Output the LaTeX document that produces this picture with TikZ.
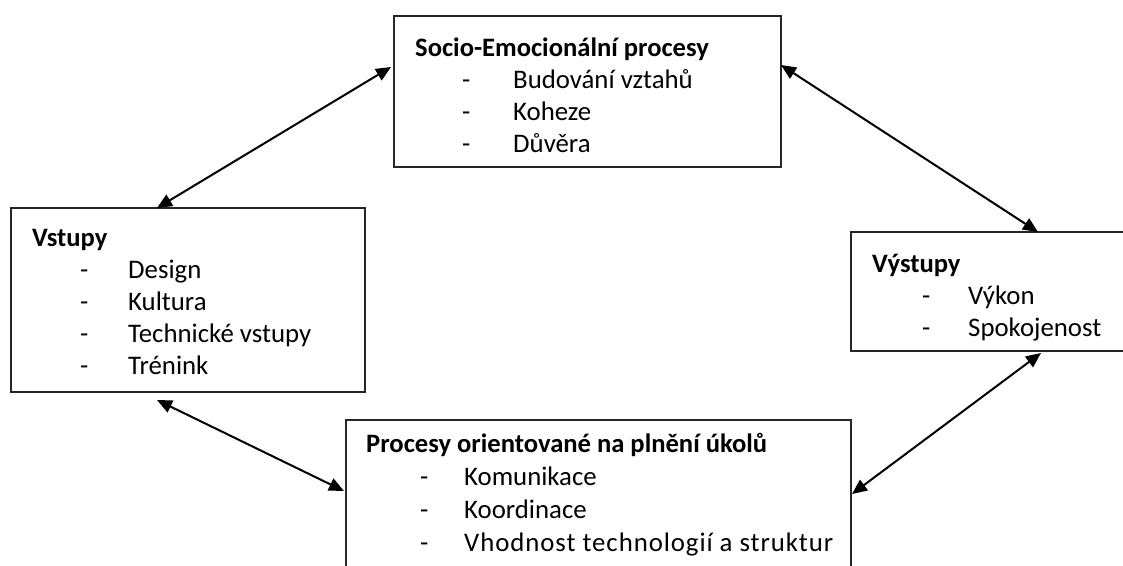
\documentclass[tikz,border=0pt]{standalone}
\usepackage{fontspec}
\setmainfont{Carlito}
\usetikzlibrary{arrows.meta,calc}
\begin{document}
\begin{tikzpicture}[x=1pt,y=-1pt,
  box/.style={draw=black!85, line width=1.6pt, rectangle, inner sep=0pt, outer sep=0pt, anchor=north west},
  head/.style={anchor=base west, inner sep=0pt, font=\fontsize{26.6}{32}\selectfont\bfseries},
  item/.style={anchor=base west, inner sep=0pt, font=\fontsize{26.8}{32}\selectfont},
  wide/.style={item, font=\fontsize{26.8}{32}\selectfont\addfontfeatures{LetterSpace=3.5}},
  link/.style={line width=2pt, {Triangle[length=15pt,width=13pt]}-{Triangle[length=15pt,width=13pt]}}
]
\useasboundingbox (0,0) rectangle (1123,565);
\clip (0,0) rectangle (1123,565);

% boxes
\node[box, minimum width=387pt, minimum height=151pt] (socio) at (394,16) {};
\node[box, minimum width=354pt, minimum height=184pt] (inputs) at (11,208) {};
\node[box, minimum width=290pt, minimum height=119pt] (outputs) at (851,232) {};
\node[box, minimum width=505pt, minimum height=200pt] (tasks) at (346,420) {};

% socio-emotional processes
\node[head] (socioT) at (415,56) {Socio-Emocionální procesy};
\node[item] (socioD1) at (462,88) {-};
\node[item] (socio1) at (513,88) {Budování vztahů};
\node[item] (socioD2) at (462,120) {-};
\node[item] (socio2) at (513,120) {Koheze};
\node[item] (socioD3) at (462,152) {-};
\node[item] (socio3) at (513,152) {Důvěra};

% inputs
\node[head] (inputsT) at (32,246) {Vstupy};
\node[item] (inputsD1) at (80,278) {-};
\node[item] (inputs1) at (128,278) {Design};
\node[item] (inputsD2) at (80,310) {-};
\node[item] (inputs2) at (128,310) {Kultura};
\node[item] (inputsD3) at (80,342) {-};
\node[item] (inputs3) at (128,342) {Technické vstupy};
\node[item] (inputsD4) at (80,374) {-};
\node[item] (inputs4) at (128,374) {Trénink};

% outputs
\node[head] (outputsT) at (872,272) {Výstupy};
\node[item] (outputsD1) at (922,304) {-};
\node[item] (outputs1) at (968,304) {Výkon};
\node[item] (outputsD2) at (922,336) {-};
\node[item] (outputs2) at (968,336) {Spokojenost};

% task-oriented processes
\node[head] (tasksT) at (366,452) {Procesy orientované na plnění úkolů};
\node[item] (tasksD1) at (420,485) {-};
\node[item] (tasks1) at (464,485) {Komunikace};
\node[item] (tasksD2) at (420,518) {-};
\node[item] (tasks2) at (464,518) {Koordinace};
\node[item] (tasksD3) at (420,551) {-};
\node[wide] (tasks3) at (464,551) {Vhodnost technologií a struktur};

% two-way connectors
\draw[link] ($(socio.north west)+(-3,51)$) -- ($(inputs.north west)+(146,0)$);
\draw[link] ($(socio.north east)+(0,49)$) -- ($(outputs.north west)+(187,0)$);
\draw[link] ($(inputs.south west)+(146,8)$) -- ($(tasks.north west)+(-2,71)$);
\draw[link] ($(outputs.south west)+(190,2)$) -- ($(tasks.north east)+(1,74)$);
\end{tikzpicture}
\end{document}
